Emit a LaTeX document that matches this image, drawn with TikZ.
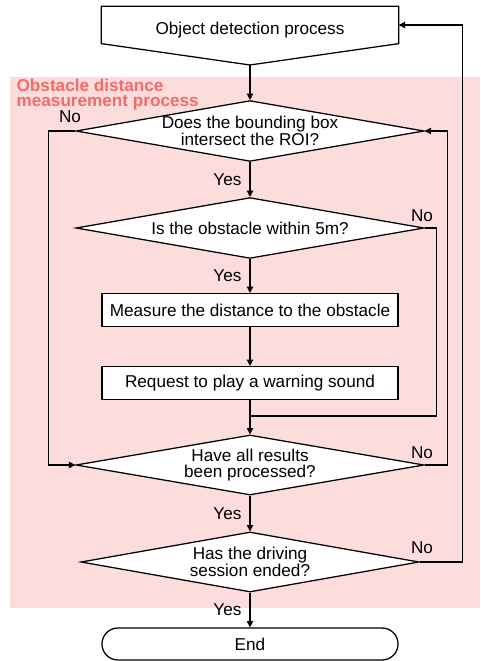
\documentclass[tikz,border=0pt]{standalone}
\usepackage{fontspec}
\setmainfont{Liberation Sans}
\usetikzlibrary{arrows.meta, shapes.geometric, shapes.misc, backgrounds}
\definecolor{czone}{HTML}{FDDCDC}
\definecolor{ctitle}{HTML}{F46B6B}
\tikzset{
  every picture/.style={font=\fontsize{12.2}{11}\selectfont, line width=0.9pt},
  box/.style={draw, fill=white, minimum width=7.4cm, minimum height=0.82cm, inner sep=0pt},
  dec/.style={diamond, draw, fill=white, inner sep=0pt, minimum width=#1, minimum height=1.52cm},
  dec/.default=8.7cm,
  arrow/.style={-{Triangle[length=4.5pt, width=4.5pt]}},
  inlbl/.style={align=center, inner sep=0pt},
}

\begin{document}
\begin{tikzpicture}[x=0.025cm, y=-0.025cm,
  pent/.style={minimum width=7.4cm, minimum height=0.9cm, inner sep=0pt},
  term/.style={rounded rectangle, draw, fill=white, minimum width=7.4cm, minimum height=0.8cm, inner sep=0pt},
  lab/.style={inner sep=0pt},
  yes/.style={left=0.2cm, inner sep=0pt}]
  \useasboundingbox (0,0) rectangle (480,661);
  % ---------- flow nodes ----------
  \node[pent, label={[inlbl, yshift=-0.12cm]center:Object detection process}] (detect) at (250,25) {};
  \coordinate (detect tip) at (250,65);
  \node[dec, label={[inlbl]center:{Does the bounding box\\intersect the ROI?}}] (d1) at (250,131) {};
  \node[dec, label={[inlbl]center:Is the obstacle within 5m?}] (d2) at (250,228) {};
  \node[box] (box1) at (250,310) {Measure the distance to the obstacle};
  \node[box] (box2) at (250,383) {Request to play a warning sound};
  \coordinate (join) at (250,416);
  \node[dec, minimum height=1.5cm, label={[inlbl]center:{Have all results\\been processed?}}] (d3) at (250,465) {};
  \node[dec=8.45cm, minimum height=1.5cm, label={[inlbl]center:{Has the driving\\session ended?}}] (d4) at (250,562) {};
  \node[term] (end) at (250,644) {End};
  % ---------- zone and start shape ----------
  \begin{scope}[on background layer]
    \fill[czone] (10,77) rectangle (480,608);
    \draw[fill=white, line width=0.9pt] (detect.north west) -- (detect.north east) -- (detect.south east)
      -- (detect tip) -- (detect.south west) -- cycle;
  \end{scope}
  \node[font=\fontsize{12.2}{11}\selectfont\bfseries, text=ctitle, align=left, anchor=north west, inner sep=0pt] (zonetitle) at (16,78) {Obstacle distance\\measurement process};
  % ---------- connectors ----------
  \draw[arrow] (detect tip) -- (d1.north);
  \draw[arrow] (d1.south) -- node[yes] (yes1) {Yes} (d2.north);
  \draw[arrow] (d2.south) -- node[yes] (yes2) {Yes} (box1.north);
  \draw[arrow] (box1.south) -- (box2.north);
  \draw[arrow] (box2.south) -- (d3.north);
  \draw (d2.east) -- ++(12,0) |- (join);
  \draw[arrow] (d1.west) -- ++(-27,0) |- (d3.west);
  \draw[arrow] (d3.east) -- ++(23,0) |- (d1.east);
  \draw[arrow] (d3.south) -- node[yes] (yes3) {Yes} (d4.north);
  \draw[arrow] (d4.east) -- ++(43,0) |- (detect.east);
  \draw[arrow] (d4.south) -- node[yes] (yes4) {Yes} (end.north);
  % ---------- answer labels ----------
  \node[lab] (no1) at (70,117) {No};
  \node[lab] (no2) at (422,216) {No};
  \node[lab] (no3) at (422,453) {No};
  \node[lab] (no4) at (422,548) {No};
\end{tikzpicture}
\end{document}
